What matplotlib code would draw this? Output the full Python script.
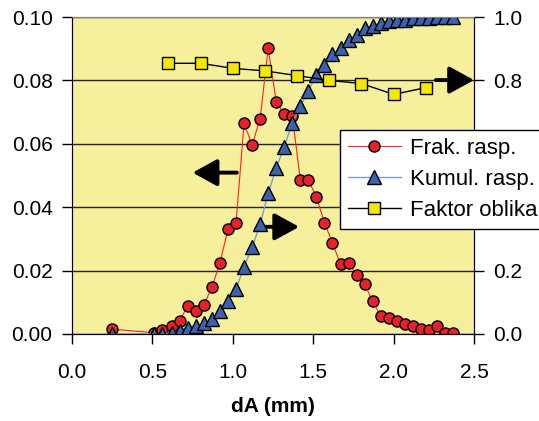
import matplotlib
matplotlib.use('Agg')
import matplotlib.pyplot as plt

# podaci ocitani s grafa
dA = [0.25, 0.51, 0.56, 0.62, 0.67, 0.72, 0.77, 0.82, 0.87, 0.92, 0.97,
      1.02, 1.07, 1.12, 1.17, 1.22, 1.27, 1.32, 1.37, 1.42, 1.47, 1.52,
      1.57, 1.62, 1.67, 1.72, 1.77, 1.82, 1.87, 1.92, 1.97, 2.02, 2.07,
      2.12, 2.17, 2.22, 2.27, 2.32, 2.37]
frak = [0.0015, 0.0004, 0.0013, 0.0025, 0.0042, 0.0089, 0.0074, 0.0092,
        0.0147, 0.0225, 0.0330, 0.0349, 0.0665, 0.0596, 0.0679, 0.0902,
        0.0733, 0.0694, 0.0688, 0.0486, 0.0486, 0.0432, 0.0351, 0.0287,
        0.0220, 0.0225, 0.0186, 0.0158, 0.0103, 0.0056, 0.0050, 0.0041,
        0.0032, 0.0026, 0.0017, 0.0013, 0.0026, 0.0002, 0.0002]
kumul = [0.0, 0.0, 0.0, 0.004, 0.010, 0.020, 0.025, 0.034, 0.046, 0.073,
         0.105, 0.142, 0.212, 0.273, 0.346, 0.444, 0.523, 0.591, 0.665,
         0.719, 0.767, 0.817, 0.849, 0.882, 0.903, 0.927, 0.943, 0.964,
         0.973, 0.980, 0.987, 0.991, 0.991, 0.996, 0.996, 0.996, 0.999,
         0.999, 0.999]
dA_faktor = [0.6, 0.8, 1.0, 1.2, 1.4, 1.6, 1.8, 2.0, 2.2]
faktor = [0.854, 0.854, 0.838, 0.830, 0.815, 0.800, 0.790, 0.756, 0.777]

left_ticks = [0.00, 0.02, 0.04, 0.06, 0.08, 0.10]
right_ticks = [0.0, 0.2, 0.4, 0.6, 0.8, 1.0]
# 0.4 i 0.6 su skriveni ispod legende
right_labels = ['0.0', '0.2', '', '', '0.8', '1.0']
x_ticks = [0.0, 0.5, 1.0, 1.5, 2.0, 2.5]

plt.rcParams['font.family'] = ['Liberation Sans', 'DejaVu Sans']
plt.rcParams['font.size'] = 15

fig = plt.figure(figsize=(5.39, 4.21), dpi=100)
ax = fig.add_axes([0.1336, 0.2067, 0.7458, 0.7529])
ax2 = ax.twinx()

ax.set_facecolor('#F6EF9B')
ax.set_xlim(0, 2.5)
ax.set_ylim(0, 0.10)
ax2.set_ylim(0, 1.0)
ax.set_xticks(x_ticks)
ax.set_xticklabels([f'{v:.1f}' for v in x_ticks])
ax.set_yticks(left_ticks)
ax.set_yticklabels([f'{v:.2f}' for v in left_ticks])
ax2.set_yticks(right_ticks)
ax2.set_yticklabels(right_labels)

ax.grid(axis='y', color='#222222', linewidth=1.0)
ax.set_axisbelow(True)

ax.tick_params(axis='x', direction='out', length=7, width=1, pad=14)
ax.tick_params(axis='y', direction='out', length=7, width=1, pad=7)
ax2.tick_params(axis='y', direction='out', length=7, width=1, pad=7)

for a in (ax, ax2):
    a.spines['top'].set_color('#808080')
    a.spines['left'].set_color('black')
    a.spines['right'].set_color('black')
    a.spines['bottom'].set_color('black')

l1, = ax.plot(dA, frak, color='#FF2020', linewidth=0.8, marker='o',
              markersize=8, markerfacecolor='#E8202A', markeredgecolor='black',
              markeredgewidth=1.0, label='Frak. rasp.')
l2, = ax2.plot(dA, kumul, color='#7C9DD0', linewidth=1.0, marker='^',
               markersize=10, markerfacecolor='#3A62B0', markeredgecolor='black',
               markeredgewidth=1.0, label='Kumul. rasp.')
l3, = ax2.plot(dA_faktor, faktor, color='black', linewidth=1.0, marker='s',
               markersize=8, markerfacecolor='#F2E800', markeredgecolor='black',
               markeredgewidth=1.0, label='Faktor oblika')

ax.set_xlabel('dA (mm)', fontweight='bold', labelpad=11)

# strelice koje pokazuju na os
arrow = dict(arrowstyle='-|>,head_length=1.0,head_width=0.55', color='black',
             linewidth=2.8, shrinkA=0, shrinkB=0)
ax.annotate('', xy=(0.30, 0.509), xytext=(0.41, 0.509),
            xycoords='axes fraction', arrowprops=arrow)
ax.annotate('', xy=(0.565, 0.338), xytext=(0.463, 0.338),
            xycoords='axes fraction', arrowprops=arrow)
ax2.annotate('', xy=(1.0, 0.801), xytext=(0.905, 0.801),
             xycoords='axes fraction', arrowprops=arrow, annotation_clip=False)

leg = ax2.legend(handles=[l1, l2, l3], loc='upper left',
                 bbox_to_anchor=(340 / 539, 1 - 130 / 421),
                 bbox_transform=fig.transFigure, fancybox=False,
                 framealpha=1, edgecolor='black', handlelength=2.4,
                 labelspacing=0.45, borderpad=0.35, handletextpad=0.4,
                 borderaxespad=0, fontsize=16)
leg.get_frame().set_linewidth(1.0)

plt.savefig('out.png', dpi=100)
plt.close()
